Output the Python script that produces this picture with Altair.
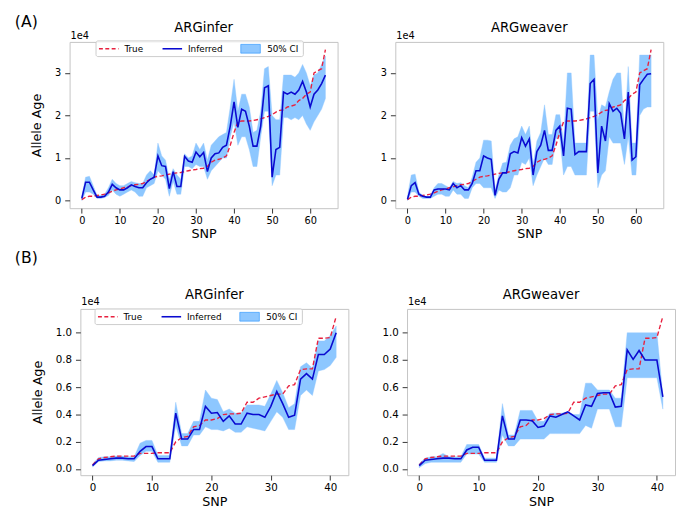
import altair as alt
import pandas as pd

FONT = "DejaVu Sans"
RED = "#e8213f"
BLUE = "#0a0ad0"
FILL = "#1e90ff"

# ---------------- data (values in units of 1e4) ----------------
SNP_A = list(range(65))
TRUE_A = [0.02, 0.08, 0.10, 0.10, 0.12, 0.13, 0.15, 0.18, 0.22, 0.25,
          0.27, 0.30, 0.32, 0.35, 0.37, 0.38, 0.40, 0.45, 0.50, 0.55,
          0.57, 0.58, 0.60, 0.62, 0.64, 0.65, 0.66, 0.68, 0.70, 0.72,
          0.73, 0.75, 0.76, 0.80, 0.90, 0.95, 0.97, 1.00, 1.05, 1.30,
          1.60, 1.85, 1.87, 1.87, 1.87, 1.88, 1.90, 1.92, 1.95, 1.98,
          2.02, 2.08, 2.12, 2.13, 2.20, 2.22, 2.25, 2.35, 2.40, 2.50,
          2.55, 3.00, 3.05, 3.10, 3.55]

INF_A1 = [0.05, 0.43, 0.43, 0.25, 0.08, 0.08, 0.10, 0.20, 0.38, 0.30,
          0.25, 0.25, 0.30, 0.37, 0.33, 0.30, 0.30, 0.42, 0.50, 0.55,
          1.05, 0.82, 0.80, 0.28, 0.68, 0.33, 0.33, 1.04, 0.93, 0.90,
          1.14, 1.03, 1.13, 0.68, 1.00, 1.10, 1.12, 1.25, 1.30, 1.75,
          2.32, 1.72, 2.15, 2.10, 1.75, 1.28, 1.28, 1.75, 2.65, 2.70,
          0.55, 1.20, 1.25, 2.55, 2.50, 2.55, 2.50, 2.60, 2.80, 2.55,
          2.20, 2.50, 2.60, 2.75, 2.95]
LO_A1 = [0.00, 0.20, 0.20, 0.15, 0.05, 0.05, 0.07, 0.12, 0.25, 0.15,
         0.10, 0.15, 0.20, 0.25, 0.20, 0.10, 0.10, 0.30, 0.35, 0.40,
         0.70, 0.60, 0.50, 0.10, 0.45, 0.15, 0.15, 0.80, 0.80, 0.75,
         0.85, 0.80, 0.80, 0.50, 0.70, 0.80, 0.90, 1.00, 1.00, 1.50,
         1.85, 1.30, 1.50, 1.50, 1.20, 0.80, 0.80, 1.50, 2.10, 2.10,
         0.35, 0.60, 0.60, 1.95, 1.95, 1.90, 1.95, 1.90, 2.00, 1.80,
         1.65, 1.85, 2.00, 2.15, 2.40]
HI_A1 = [0.10, 0.55, 0.57, 0.35, 0.12, 0.12, 0.15, 0.30, 0.50, 0.40,
         0.35, 0.35, 0.40, 0.45, 0.42, 0.40, 0.40, 0.60, 0.70, 0.60,
         1.35, 1.05, 0.95, 0.50, 0.75, 0.60, 0.50, 1.10, 1.00, 1.05,
         1.35, 1.20, 1.35, 0.95, 1.30, 1.40, 1.50, 1.55, 1.60, 2.20,
         2.85, 2.10, 2.50, 2.50, 2.20, 1.60, 1.65, 2.10, 3.10, 3.15,
         2.00, 1.90, 1.90, 2.95, 2.95, 2.95, 2.90, 3.00, 3.20, 3.00,
         2.70, 2.95, 3.00, 3.20, 3.40]

INF_A2 = [0.03, 0.35, 0.42, 0.15, 0.10, 0.08, 0.08, 0.25, 0.27, 0.27,
          0.27, 0.25, 0.40, 0.30, 0.35, 0.25, 0.25, 0.40, 0.70, 0.70,
          1.05, 1.00, 0.97, 0.12, 0.50, 0.65, 0.65, 1.10, 1.15, 1.12,
          1.48, 1.28, 1.45, 0.60, 1.15, 1.30, 1.65, 1.18, 1.18, 1.65,
          1.75, 1.05, 2.17, 2.15, 1.08, 1.15, 1.15, 1.15, 2.75, 2.85,
          0.65, 1.75, 1.40, 2.28, 2.10, 2.17, 2.05, 1.45, 2.55, 0.95,
          1.03, 2.72, 2.85, 2.97, 2.98]
LO_A2 = [0.00, 0.20, 0.20, 0.10, 0.05, 0.05, 0.05, 0.10, 0.15, 0.15,
         0.10, 0.10, 0.25, 0.15, 0.15, 0.05, 0.05, 0.30, 0.40, 0.40,
         0.30, 0.30, 0.30, 0.05, 0.25, 0.20, 0.20, 0.30, 0.60, 0.60,
         0.90, 0.85, 1.00, 0.35, 0.60, 0.80, 1.00, 0.85, 0.85, 1.45,
         1.50, 0.60, 0.80, 0.80, 0.60, 0.60, 0.60, 0.60, 2.10, 2.10,
         0.30, 0.60, 0.70, 1.50, 1.35, 1.35, 1.35, 0.85, 1.50, 0.60,
         0.60, 2.00, 2.15, 2.20, 2.20]
HI_A2 = [0.10, 0.60, 0.62, 0.20, 0.12, 0.10, 0.10, 0.30, 0.40, 0.40,
         0.35, 0.30, 0.45, 0.40, 0.42, 0.35, 0.30, 0.55, 0.90, 1.00,
         1.42, 1.42, 1.40, 0.25, 0.60, 0.88, 0.90, 1.30, 1.45, 1.50,
         1.75, 1.55, 1.75, 0.85, 1.40, 1.60, 2.25, 1.55, 1.55, 2.02,
         2.02, 1.40, 3.00, 3.00, 1.35, 1.35, 1.35, 1.35, 3.42, 3.42,
         1.90, 2.25, 2.20, 2.55, 2.85, 3.00, 3.00, 1.60, 3.15, 1.35,
         1.35, 3.42, 3.42, 3.42, 3.42]

SNP_B = list(range(42))
TRUE_B = [0.03, 0.075, 0.085, 0.09, 0.095, 0.095, 0.095, 0.095, 0.115, 0.115,
          0.115, 0.12, 0.12, 0.12, 0.20, 0.23, 0.24, 0.31, 0.32, 0.36,
          0.36, 0.37, 0.40, 0.405, 0.405, 0.41, 0.49, 0.49, 0.52, 0.53,
          0.54, 0.55, 0.55, 0.61, 0.62, 0.73, 0.735, 0.735, 0.96, 0.96,
          0.965, 1.12]

INF_B1 = [0.025, 0.065, 0.07, 0.075, 0.08, 0.08, 0.075, 0.075, 0.13, 0.165,
          0.165, 0.075, 0.075, 0.075, 0.41, 0.22, 0.22, 0.29, 0.29, 0.46,
          0.41, 0.415, 0.35, 0.39, 0.33, 0.33, 0.41, 0.40, 0.40, 0.38,
          0.46, 0.57, 0.48, 0.38, 0.395, 0.66, 0.70, 0.66, 0.84, 0.84,
          0.88, 1.00]
LO_B1 = [0.015, 0.055, 0.06, 0.06, 0.065, 0.065, 0.06, 0.055, 0.10, 0.13,
         0.13, 0.05, 0.05, 0.05, 0.32, 0.17, 0.17, 0.25, 0.25, 0.31,
         0.29, 0.29, 0.28, 0.30, 0.27, 0.27, 0.31, 0.30, 0.29, 0.28,
         0.35, 0.42, 0.38, 0.29, 0.29, 0.54, 0.58, 0.54, 0.72, 0.73,
         0.76, 0.82]
HI_B1 = [0.035, 0.085, 0.09, 0.09, 0.095, 0.095, 0.09, 0.09, 0.19, 0.21,
         0.21, 0.10, 0.10, 0.10, 0.49, 0.26, 0.26, 0.35, 0.35, 0.58,
         0.52, 0.51, 0.42, 0.44, 0.41, 0.41, 0.47, 0.47, 0.47, 0.46,
         0.55, 0.65, 0.56, 0.45, 0.48, 0.75, 0.78, 0.74, 0.94, 0.94,
         0.98, 1.05]

INF_B2 = [0.025, 0.065, 0.07, 0.075, 0.08, 0.08, 0.075, 0.075, 0.14, 0.16,
          0.16, 0.065, 0.065, 0.065, 0.39, 0.22, 0.22, 0.36, 0.36, 0.355,
          0.305, 0.315, 0.39, 0.38, 0.40, 0.42, 0.39, 0.36, 0.47, 0.46,
          0.555, 0.56, 0.56, 0.455, 0.46, 0.875, 0.805, 0.87, 0.80, 0.80,
          0.80, 0.53]
LO_B2 = [0.01, 0.04, 0.05, 0.05, 0.05, 0.05, 0.05, 0.05, 0.11, 0.11,
         0.11, 0.05, 0.05, 0.05, 0.25, 0.17, 0.17, 0.22, 0.22, 0.22,
         0.22, 0.22, 0.26, 0.26, 0.26, 0.26, 0.26, 0.26, 0.32, 0.30,
         0.44, 0.44, 0.44, 0.31, 0.31, 0.67, 0.67, 0.67, 0.67, 0.67,
         0.67, 0.44]
HI_B2 = [0.04, 0.08, 0.09, 0.09, 0.115, 0.09, 0.09, 0.09, 0.18, 0.18,
         0.18, 0.08, 0.08, 0.08, 0.48, 0.25, 0.25, 0.43, 0.43, 0.43,
         0.35, 0.35, 0.41, 0.41, 0.41, 0.42, 0.40, 0.40, 0.63, 0.63,
         0.58, 0.58, 0.58, 0.52, 0.52, 1.00, 1.00, 1.00, 1.00, 1.00,
         1.00, 0.54]

X_TICKS_A = [0, 10, 20, 30, 40, 50, 60]
X_TICKS_B = [0, 10, 20, 30, 40]
Y_TICKS_A = [0, 1, 2, 3]
Y_TICKS_B = [0.0, 0.2, 0.4, 0.6, 0.8, 1.0]
LEGEND_LABELS = ["True", "Inferred", "50% CI"]

W, H = 274, 170


def txt(s, x, y, size, align="left", baseline="alphabetic", opacity=1):
    return alt.Chart(pd.DataFrame({"t": [s]})).mark_text(
        align=align, baseline=baseline, fontSize=size, font=FONT, color="black",
        opacity=opacity
    ).encode(x=alt.value(x), y=alt.value(y), text="t:N")


def legend(dx, dy):
    one = pd.DataFrame({"k": [0]})
    box = alt.Chart(one).mark_rect(
        fill="white", fillOpacity=0.85, stroke="#cccccc", strokeWidth=1, cornerRadius=2
    ).encode(x=alt.value(dx), x2=alt.value(dx + 212), y=alt.value(dy), y2=alt.value(dy + 16))
    red = alt.Chart(one).mark_rule(color=RED, strokeWidth=1.5, strokeDash=[4, 2.5]).encode(
        x=alt.value(dx + 3), x2=alt.value(dx + 23), y=alt.value(dy + 8))
    blue = alt.Chart(one).mark_rule(color=BLUE, strokeWidth=1.6).encode(
        x=alt.value(dx + 68), x2=alt.value(dx + 88), y=alt.value(dy + 8))
    sw = alt.Chart(one).mark_rect(fill=FILL, fillOpacity=0.5, stroke=FILL, strokeOpacity=0.6).encode(
        x=alt.value(dx + 148), x2=alt.value(dx + 168), y=alt.value(dy + 3.5), y2=alt.value(dy + 12.5))
    t1 = txt(LEGEND_LABELS[0], dx + 29, dy + 8, 9, baseline="middle")
    t2 = txt(LEGEND_LABELS[1], dx + 94, dy + 8, 9, baseline="middle")
    t3 = txt(LEGEND_LABELS[2], dx + 175, dy + 8, 9, baseline="middle")
    return [box, red, blue, sw, t1, t2, t3]


def panel(snp, true, inf, lo, hi, name, xdom, ydom, xticks, yticks, yfmt, lsize,
          left, e4y, tag, tag_xy, leg=None):
    df = pd.DataFrame({"snp": snp, "true": true, "inf": inf, "lo": lo, "hi": hi})
    xax = alt.Axis(values=xticks, title="SNP", format="d", labelFontSize=lsize,
                   titleFontSize=13, tickSize=5, labelPadding=3, titlePadding=2,
                   labelFlush=False, labelOverlap=False)
    ykw = dict(values=yticks, format=yfmt, labelFontSize=lsize, tickSize=5,
               labelPadding=4, labelOverlap=False)
    if left:
        ykw.update(title="Allele Age", titleFontSize=13, titlePadding=11)
    else:
        ykw.update(title=None)
    yax = alt.Axis(**ykw)
    xs = alt.Scale(domain=xdom, nice=False, zero=False)
    ys = alt.Scale(domain=ydom, nice=False, zero=False)
    X = alt.X("snp:Q", scale=xs, axis=xax)
    base = alt.Chart(df)
    band = base.mark_area(color=FILL, opacity=0.5, stroke=FILL, strokeWidth=0.8,
                          strokeOpacity=0.5).encode(
        x=X, y=alt.Y("lo:Q", scale=ys, axis=yax), y2="hi:Q")
    tl = base.mark_line(color=RED, strokeWidth=1.4, strokeDash=[4.5, 2.5]).encode(
        x=X, y=alt.Y("true:Q", scale=ys, axis=yax))
    il = base.mark_line(color=BLUE, strokeWidth=1.6).encode(
        x=X, y=alt.Y("inf:Q", scale=ys, axis=yax))
    layers = [band, tl, il,
              txt("1e4", 1, e4y, 10),
              txt(name, W / 2, -10, 13.5, align="center")]
    if leg is not None:
        layers += legend(*leg)
    if left:
        layers.append(txt(tag, tag_xy[0], tag_xy[1], 16, baseline="top"))
    else:
        # invisible spacer so both panels of a row share the same top extent
        layers.append(txt(tag, 100, tag_xy[1], 16, baseline="top", opacity=0))
    return alt.layer(*layers).properties(width=W, height=H)


def spacer():
    return alt.Chart(pd.DataFrame({"k": [0]})).mark_point(opacity=0).encode(
        x=alt.value(0), y=alt.value(0)
    ).properties(width=1, height=1, view=alt.ViewBackground(strokeOpacity=0))


XDOM_A = [-3.2, 67.2]
YDOM_A = [-0.18, 3.73]
XDOM_B = [-2.05, 43.05]
YDOM_B = [-0.045, 1.175]

tl = panel(SNP_A, TRUE_A, INF_A1, LO_A1, HI_A1, "ARGinfer", XDOM_A, YDOM_A,
           X_TICKS_A, Y_TICKS_A, "d", 10, True, -3, "(A)", (-56, -28), leg=(27, -1))
tr = panel(SNP_A, TRUE_A, INF_A2, LO_A2, HI_A2, "ARGweaver", XDOM_A, YDOM_A,
           X_TICKS_A, Y_TICKS_A, "d", 10, False, -3, "(A)", (-56, -28))
bl = panel(SNP_B, TRUE_B, INF_B1, LO_B1, HI_B1, "ARGinfer", XDOM_B, YDOM_B,
           X_TICKS_B, Y_TICKS_B, ".1f", 10.5, True, -4.5, "(B)", (-67, -60), leg=(15, 0))
br = panel(SNP_B, TRUE_B, INF_B2, LO_B2, HI_B2, "ARGweaver", XDOM_B, YDOM_B,
           X_TICKS_B, Y_TICKS_B, ".1f", 10.5, False, -4.5, "(B)", (-67, -60))

rowA = alt.hconcat(spacer(), alt.hconcat(tl, tr, spacing=42), spacing=0)
rowB = alt.hconcat(spacer(), alt.hconcat(bl, br, spacing=32), spacing=0)

chart = alt.vconcat(rowA, rowB, spacing=8).properties(
    padding=0
).configure_view(
    stroke="#c4c4c4", strokeWidth=1
).configure_axis(
    domain=False, grid=False, tickColor="#333333", tickWidth=1,
    labelFont=FONT, titleFont=FONT, labelColor="black", titleColor="black",
    titleFontWeight="normal"
)

chart.save("out.html", embed_options={"renderer": "svg", "actions": False})
